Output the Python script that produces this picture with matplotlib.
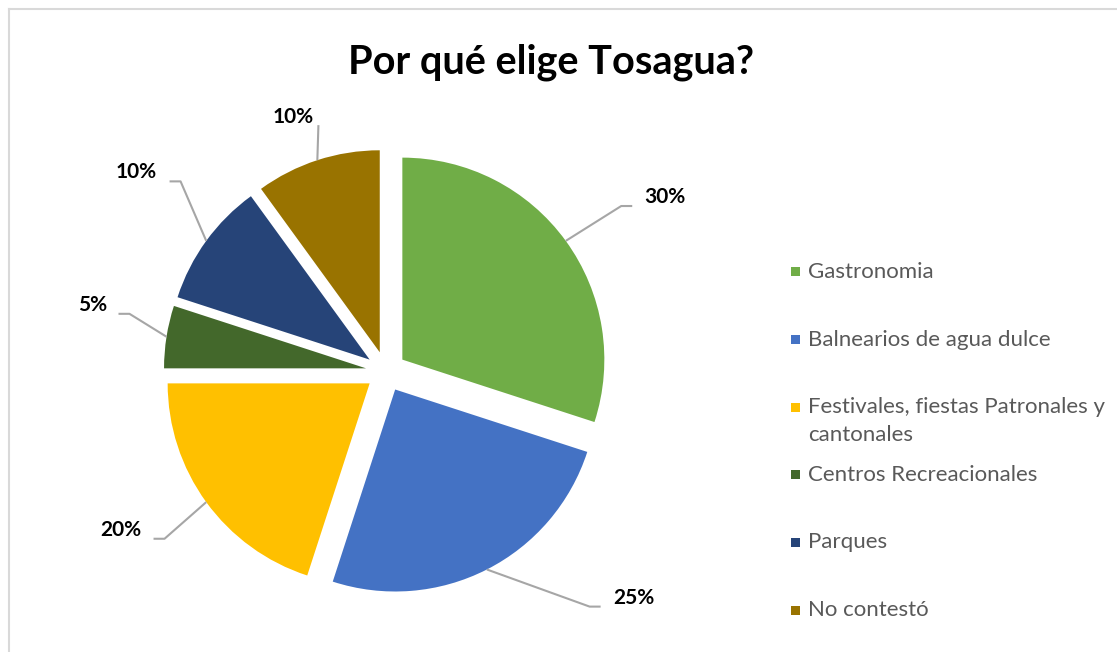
import numpy as np
import matplotlib.pyplot as plt
from matplotlib.lines import Line2D
from matplotlib.patches import Rectangle

# data
categorias = ['Gastronomia', 'Balnearios de agua dulce',
              'Festivales, fiestas Patronales y\ncantonales',
              'Centros Recreacionales', 'Parques', 'No contestó']
porcentajes = [30, 25, 20, 5, 10, 10]
etiquetas = ['30%', '25%', '20%', '5%', '10%', '10%']
colores = ['#70AD47', '#4472C4', '#FFC000', '#43682B', '#264478', '#997300']

plt.rcParams['font.family'] = ['Lato', 'DejaVu Sans']

W, H = 1117, 652
fig = plt.figure(figsize=(W / 100, H / 100), dpi=100)

# pie centre and radius in pixels, axes covers the whole figure
cx, cy, rad = 386, H - 371.5, 202
ax = fig.add_axes([0, 0, 1, 1])
ax.pie(porcentajes, colors=colores, startangle=90, counterclock=False,
       explode=[0.1] * len(porcentajes), radius=1,
       wedgeprops=dict(linewidth=0))
ax.set_xlim(-cx / rad, (W - cx) / rad)
ax.set_ylim(-cy / rad, (H - cy) / rad)
ax.set_aspect('auto')
ax.axis('off')

# label placement: angle shift from the wedge middle and distance
desplaz = [-4, 20.6, -5.2, -3.8, -2.6, 2.0]
dist = [1.63, 1.66, 1.53, 1.49, 1.58, 1.34]
px = 1.0 / rad   # one pixel in data units

total = sum(porcentajes)
acum = np.cumsum(porcentajes)
for i, v in enumerate(porcentajes):
    mid = 90 - 360 * (acum[i] - v / 2) / total
    t = np.deg2rad(mid)
    borde = (1.1 * np.cos(t), 1.1 * np.sin(t))
    t2 = np.deg2rad(mid + desplaz[i])
    lx, ly = dist[i] * np.cos(t2), dist[i] * np.sin(t2)
    ax.text(lx, ly, etiquetas[i], ha='center', va='center',
            fontsize=15, fontweight='bold', color='black')
    # leader line: radial part then a short horizontal bit to the label
    s = 1 if np.cos(t) > 0 else -1
    hw = 12 + 7 * len(etiquetas[i])
    fin = (lx - s * hw * px, ly - 9 * px)
    if abs(np.cos(t)) > 0.4:
        codo = (fin[0] - s * 11 * px, fin[1])
        xs = [borde[0], codo[0], fin[0]]
        ys = [borde[1], codo[1], fin[1]]
    else:
        fin = (lx + 25 * px, ly - 8 * px)
        xs = [borde[0], fin[0]]
        ys = [borde[1], fin[1]]
    ax.plot(xs, ys, color='#A6A6A6', lw=1.5, solid_capstyle='butt')

fig.text(551 / W, 1 - 62 / H, 'Por qué elige Tosagua?', ha='center',
         va='center', fontsize=28.5, fontweight='bold', color='black')

# legend drawn by hand so the two-line entry keeps the Excel spacing
y0, paso = 272, 67.6
for i, nombre in enumerate(categorias):
    yc = y0 + i * paso
    fig.patches.append(Rectangle((791 / W, 1 - (yc + 4.5) / H), 9 / W, 9 / H,
                                 transform=fig.transFigure,
                                 facecolor=colores[i], edgecolor='none'))
    fig.text(808 / W, 1 - (yc - 10) / H, nombre, ha='left', va='top',
             fontsize=16, color='#595959', linespacing=1.48)

# chart border (only top and left edges are visible)
fig.lines.append(Line2D([9 / W, 9 / W], [0, 1 - 8.5 / H],
                        transform=fig.transFigure, color='#D9D9D9', lw=1.5))
fig.lines.append(Line2D([9 / W, 1], [1 - 8.5 / H, 1 - 8.5 / H],
                        transform=fig.transFigure, color='#D9D9D9', lw=1.5))

fig.savefig('out.png', dpi=100)
